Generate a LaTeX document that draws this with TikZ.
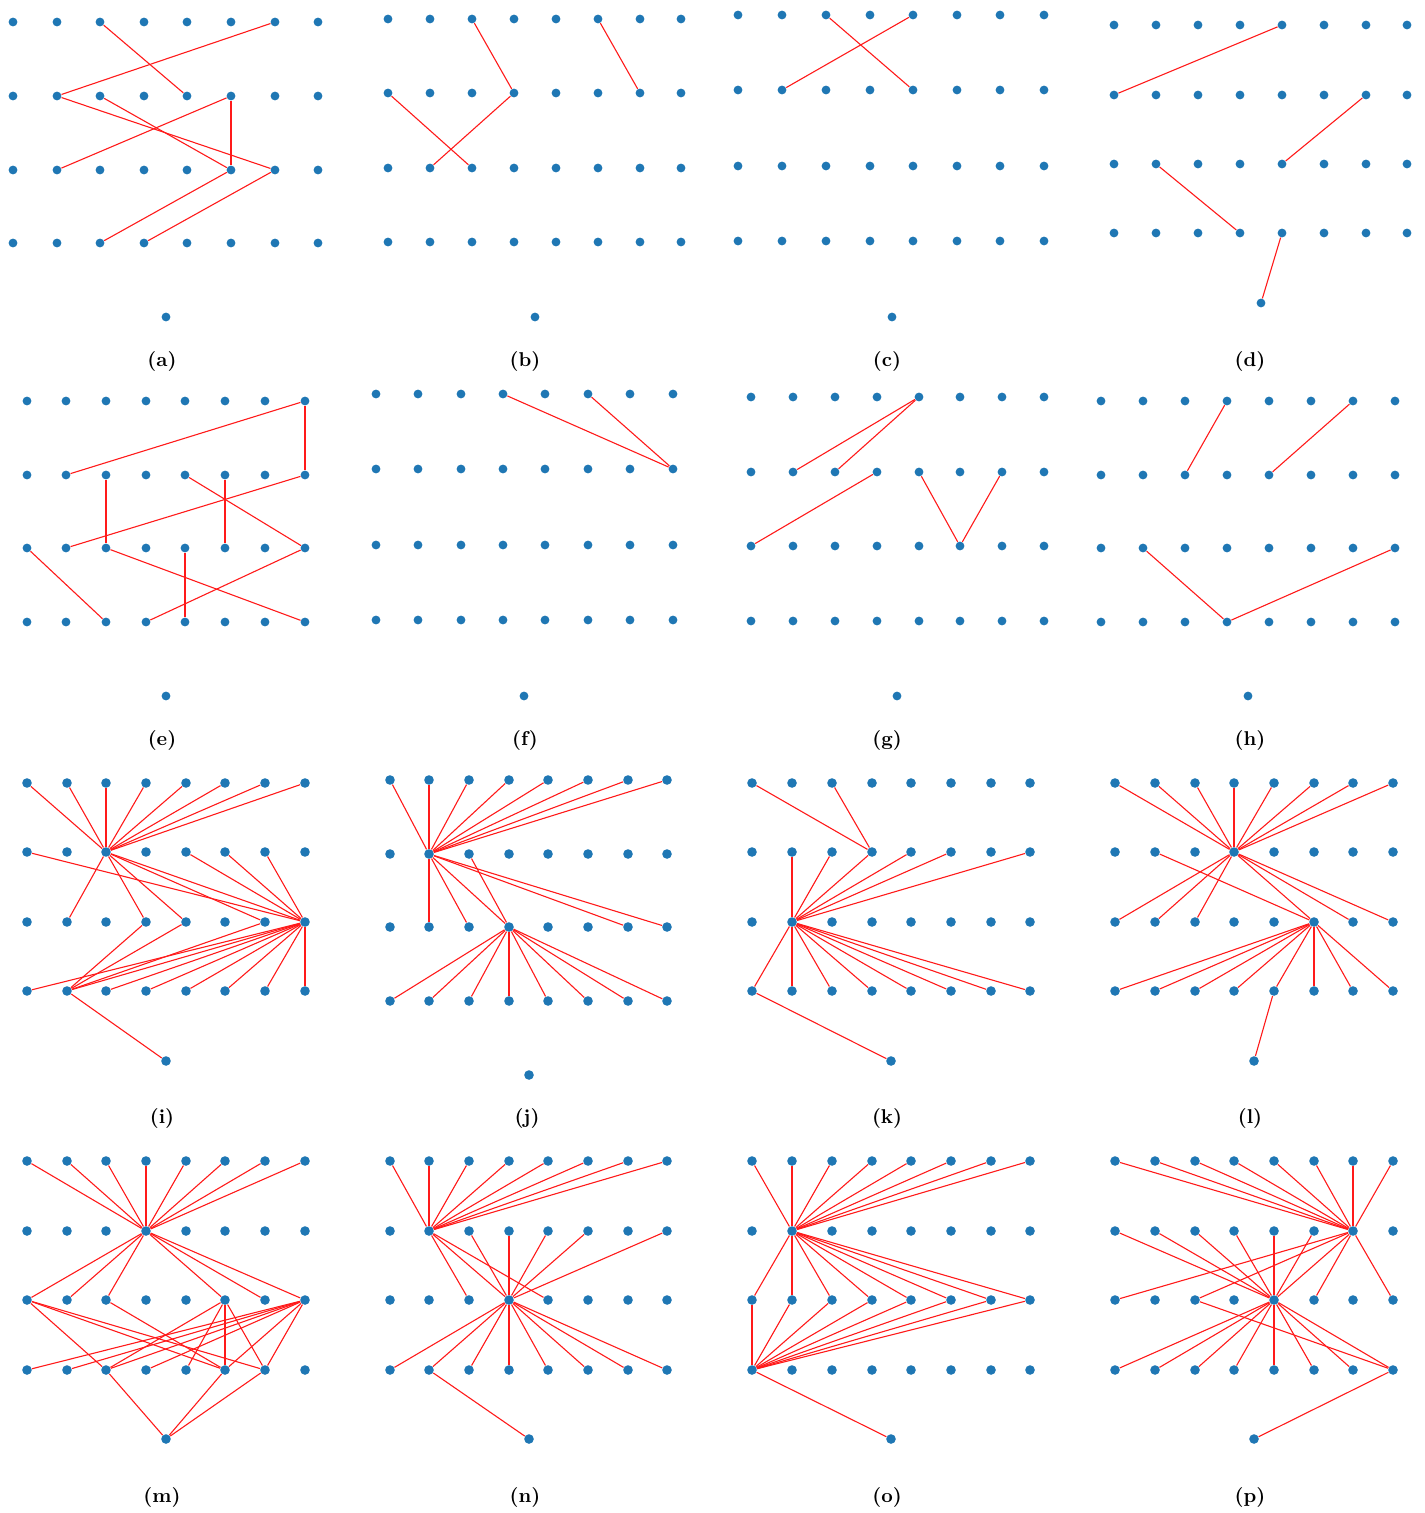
\documentclass[tikz,border=0pt]{standalone}
\usetikzlibrary{backgrounds}

\definecolor{dotblue}{HTML}{1F77B4}
\definecolor{linkred}{HTML}{FF1A1A}

% one panel: name, x positions, y positions, extra dot, label position, dot size
\newcommand{\gridpanel}[6]{%
  \foreach \yy [count=\r] in {#3}
    \foreach \xx [count=\c] in {#2}
      \node[dot=#6] (#1-\r-\c) at (\xx,\yy) {};
  \node[dot=#6] (#1-x) at (#4) {};
  \node[panellabel] (#1-lab) at (#5) {(#1)};
}
% single links: name, list of end/end pairs
\newcommand{\panellinks}[2]{%
  \begin{scope}[on background layer]
    \foreach \u/\v in {#2}
      \draw[link] (#1-\u) -- (#1-\v);
  \end{scope}
}
% a hub joined to several dots of one row: name, hub, row, columns
\newcommand{\fan}[4]{%
  \begin{scope}[on background layer]
    \foreach \cc in {#4}
      \draw[link] (#1-#2) -- (#1-#3-\cc);
  \end{scope}
}

\begin{document}
\begin{tikzpicture}[x=0.5pt, y=-0.5pt,
  dot/.style={circle, fill=dotblue, inner sep=0pt, minimum size=#1},
  dot/.default={4.8pt},
  link/.style={draw=linkred, line width=0.55pt},
  panellabel/.style={font=\fontsize{10}{12}\selectfont\bfseries}]
\useasboundingbox (0,0) rectangle (1424,1513);

% first row
\gridpanel{a}{13,57,100,144,187,231,275,318}{22,96,170,243}{166,317}{162,361}{4.4pt}
\gridpanel{b}{388,430,472,514,556,598,640,681}{19,93,168,242}{535,317}{525,361}{4.4pt}
\gridpanel{c}{738,782,826,870,913,957,1000,1044}{15,90,166,241}{892,317}{887,361}{4.4pt}
\gridpanel{d}{1114,1156,1198,1240,1282,1324,1366,1407}{25,95,164,233}{1261,303}{1250,361}{4.4pt}
\panellinks{a}{1-3/2-5, 1-7/2-2, 2-2/3-7, 2-3/3-6, 2-6/3-2, 2-6/3-6, 3-6/4-3, 3-7/4-4}
\panellinks{b}{1-3/2-4, 1-6/2-7, 2-1/3-3, 2-4/3-2}
\panellinks{c}{1-3/2-5, 1-5/2-2}
\panellinks{d}{1-5/2-1, 2-7/3-5, 3-2/4-4, 4-5/x}

% second row
\gridpanel{e}{27,66,106,146,185,225,265,305}{401,475,548,622}{166,696}{162,740}{4.4pt}
\gridpanel{f}{376,418,461,503,545,588,630,673}{394,469,545,620}{524,696}{525,740}{4.4pt}
\gridpanel{g}{751,793,835,877,919,960,1002,1044}{397,472,546,621}{897,696}{887,740}{4.4pt}
\gridpanel{h}{1101,1143,1185,1227,1269,1311,1353,1395}{401,475,548,622}{1248,696}{1250,740}{4.4pt}
\panellinks{e}{1-8/2-2, 1-8/2-8, 2-8/3-2, 2-3/3-3, 2-5/3-8, 2-6/3-6, 3-1/4-3, 3-3/4-8, 3-5/4-5, 3-8/4-4}
\panellinks{f}{1-4/2-8, 1-6/2-8}
\panellinks{g}{1-5/2-2, 1-5/2-3, 2-4/3-1, 2-5/3-6, 2-7/3-6}
\panellinks{h}{1-4/2-3, 1-7/2-5, 3-2/4-4, 4-4/3-8}

% third row
\gridpanel{i}{27,67,106,146,186,225,265,305}{783,852,922,991}{166,1061}{162,1118}{4.8pt}
\gridpanel{j}{390,429,469,509,548,588,628,667}{780,854,927,1001}{529,1075}{527,1118}{4.8pt}
\gridpanel{k}{752,792,832,872,911,951,991,1030}{783,852,922,991}{891,1061}{887,1118}{4.8pt}
\gridpanel{l}{1115,1155,1195,1234,1274,1314,1353,1393}{783,852,922,991}{1254,1061}{1250,1118}{4.8pt}
\fan{i}{2-3}{1}{1,...,8}
\fan{i}{2-3}{3}{2,4,5,7,8}
\fan{i}{3-8}{2}{5,6,7}
\fan{i}{3-8}{4}{2,...,8}
\fan{i}{4-2}{3}{4,5,7}
\panellinks{i}{2-1/3-8, 4-1/3-8, 4-2/x}
\fan{j}{2-2}{1}{1,...,8}
\fan{j}{2-2}{3}{2,3,4,7,8}
\fan{j}{3-4}{4}{1,...,8}
\panellinks{j}{2-3/3-4}
\fan{k}{3-2}{2}{2,3,4,5,6,8}
\fan{k}{3-2}{4}{1,...,8}
\panellinks{k}{1-1/2-4, 1-3/2-4, 4-1/x}
\fan{l}{2-4}{1}{1,...,8}
\fan{l}{2-4}{3}{1,2,3,6,7,8}
\fan{l}{3-6}{4}{1,...,8}
\panellinks{l}{2-2/3-6, 4-5/x}

% fourth row
\gridpanel{m}{27,67,106,146,186,225,265,305}{1161,1231,1300,1370}{166,1439}{162,1497}{4.8pt}
\gridpanel{n}{390,429,469,509,548,588,628,667}{1161,1231,1300,1370}{529,1439}{525,1497}{4.8pt}
\gridpanel{o}{752,792,832,872,911,951,991,1030}{1161,1231,1300,1370}{891,1439}{887,1497}{4.8pt}
\gridpanel{p}{1115,1155,1195,1234,1274,1314,1353,1393}{1161,1231,1300,1370}{1254,1439}{1250,1497}{4.8pt}
\fan{m}{2-4}{1}{1,...,8}
\fan{m}{2-4}{3}{1,2,3,6,7,8}
\fan{m}{3-1}{4}{3,6,7}
\fan{m}{3-6}{4}{3,5,6,7}
\fan{m}{3-8}{4}{1,2,3,4,6,7}
\panellinks{m}{3-3/4-6, 4-3/x, 4-6/x, 4-7/x}
\fan{n}{2-2}{1}{1,...,8}
\fan{n}{2-2}{3}{3,4,5}
\fan{n}{3-4}{2}{3,4,5,6,8}
\fan{n}{3-4}{4}{1,...,8}
\panellinks{n}{4-2/x}
\fan{o}{2-2}{1}{1,...,8}
\fan{o}{2-2}{3}{1,...,8}
\fan{o}{4-1}{3}{1,...,8}
\panellinks{o}{4-1/x}
\fan{p}{2-7}{1}{1,...,8}
\fan{p}{2-7}{3}{1,3,5,6,8}
\fan{p}{3-5}{2}{1,...,6}
\fan{p}{3-5}{4}{1,...,8}
\panellinks{p}{3-3/4-8, 4-8/x}
\end{tikzpicture}
\end{document}
